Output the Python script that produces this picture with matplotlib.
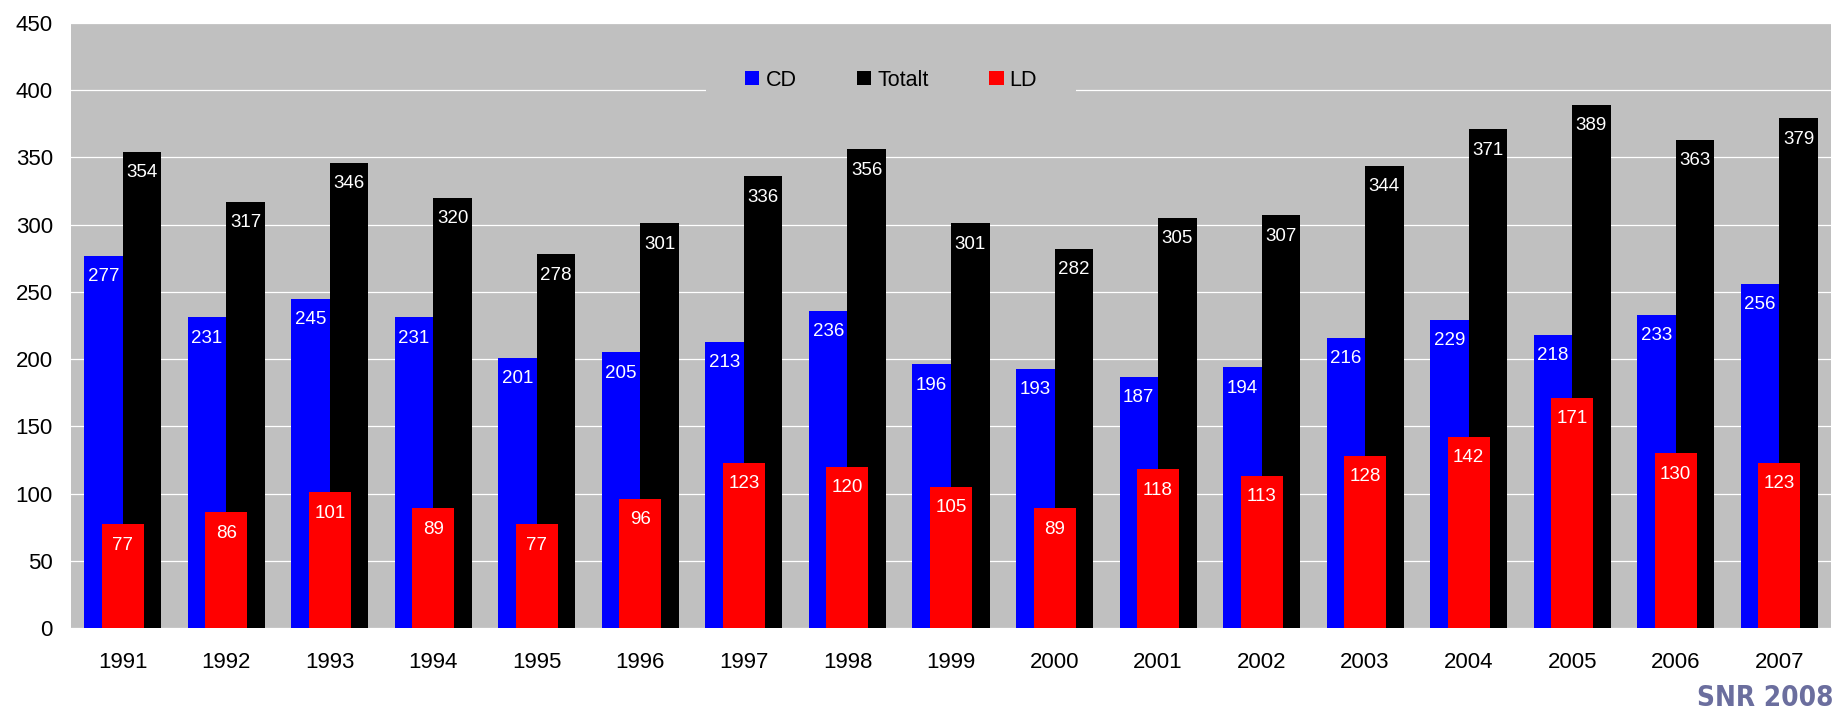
import matplotlib
matplotlib.use("Agg")
import matplotlib.pyplot as plt
from matplotlib import font_manager
import numpy as np

plt.rcParams['font.family'] = ['Liberation Sans', 'DejaVu Sans']

years = ['1991', '1992', '1993', '1994', '1995', '1996', '1997', '1998', '1999',
         '2000', '2001', '2002', '2003', '2004', '2005', '2006', '2007']
cd = [277, 231, 245, 231, 201, 205, 213, 236, 196, 193, 187, 194, 216, 229, 218, 233, 256]
totalt = [354, 317, 346, 320, 278, 301, 336, 356, 301, 282, 305, 307, 344, 371, 389, 363, 379]
ld = [77, 86, 101, 89, 77, 96, 123, 120, 105, 89, 118, 113, 128, 142, 171, 130, 123]
yticks = [0, 50, 100, 150, 200, 250, 300, 350, 400, 450]


def narrow_font():
    """Pick a condensed bold face for the credit line, if one is installed."""
    candidates = [
        dict(family='Liberation Sans Narrow', weight='bold'),
        dict(family='DejaVu Sans', stretch='condensed', weight='bold'),
        dict(family='Roboto Condensed', weight='bold'),
        dict(family='Open Sans Condensed', weight='bold'),
    ]
    for c in candidates:
        fp = font_manager.FontProperties(**c)
        try:
            path = font_manager.findfont(fp, fallback_to_default=False)
        except Exception:
            continue
        name = path.lower()
        if 'narrow' in name or 'condensed' in name or 'cond' in name:
            return font_manager.FontProperties(fname=path), True
    return font_manager.FontProperties(family='DejaVu Sans', weight='bold'), False


W, H = 1834, 719
fig = plt.figure(figsize=(W / 100, H / 100), dpi=100)
ax = fig.add_axes([71 / W, (H - 628) / H, (1831 - 71) / W, (628 - 23) / H])
ax.set_facecolor('#c0c0c0')

x = np.arange(len(years))
side_w = 0.372
mid_w = 0.406

b_cd = ax.bar(x - side_w / 2, cd, width=side_w, color='#0000ff', label='CD', zorder=2)
b_tot = ax.bar(x + side_w / 2, totalt, width=side_w, color='#000000', label='Totalt', zorder=2)
b_ld = ax.bar(x, ld, width=mid_w, color='#ff0000', label='LD', zorder=3)

for bars, vals in ((b_cd, cd), (b_tot, totalt), (b_ld, ld)):
    for rect, v in zip(bars, vals):
        ax.annotate(str(v), (rect.get_x() + rect.get_width() / 2, v),
                    xytext=(0, -15), textcoords='offset points',
                    ha='center', va='center', color='white', fontsize=13.5, zorder=5)

ax.set_xlim(-0.5, len(years) - 0.5)
ax.set_ylim(0, 450)
ax.set_yticks(yticks)
ax.set_xticks(x)
ax.set_xticklabels(years)
ax.tick_params(axis='both', length=0, labelsize=16, colors='black')
ax.tick_params(axis='x', pad=17)
ax.tick_params(axis='y', pad=13)
ax.yaxis.grid(True, color='white', linewidth=0.9, zorder=1)
ax.set_axisbelow(True)
for s in ax.spines.values():
    s.set_visible(False)

leg = ax.legend(loc='center', bbox_to_anchor=((891 - 71) / 1760, (628 - 80) / 605),
                ncol=3, fontsize=15.5, frameon=True, fancybox=False,
                handlelength=0.68, handleheight=0.68, handletextpad=0.28,
                columnspacing=2.8, borderpad=1.8)
leg.get_frame().set_facecolor('#c0c0c0')
leg.get_frame().set_edgecolor('none')
leg.get_frame().set_alpha(1)

fp, condensed = narrow_font()
fp.set_size(20 if condensed else 15)
fig.text(0.9995, (H - 698) / H, 'SNR 2008', ha='right', va='center',
         color='#6b6e9e', fontproperties=fp)

fig.savefig('out.png', dpi=100, facecolor='white')
